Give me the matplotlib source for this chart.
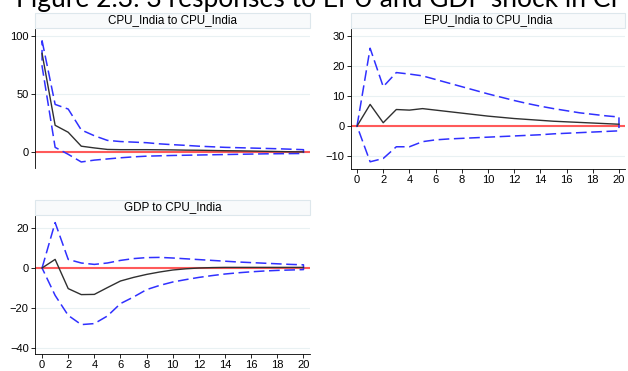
import matplotlib
matplotlib.use('Agg')
import matplotlib.pyplot as plt
from matplotlib.patches import Rectangle

plt.rcParams['font.family'] = ['Liberation Sans', 'DejaVu Sans']

steps = list(range(21))

# CPU_India to CPU_India
cpu_irf = [85, 23, 17, 5, 3.5, 2.2, 2.0, 2.0, 2.0, 1.9, 1.8, 1.6, 1.5, 1.3, 1.1, 1.0, 0.8, 0.6, 0.4, 0.2, 0.1]
cpu_up = [96, 41, 37, 19, 14, 10, 9, 8.5, 8, 7, 6.3, 5.7, 5, 4.5, 4, 3.7, 3.4, 3.1, 2.8, 2.4, 2]
cpu_lo = [74, 4, -2, -8.6, -7, -6, -5, -4.2, -3.6, -3.3, -3, -2.8, -2.6, -2.4, -2.2, -2, -1.8, -1.6, -1.5, -1.4, -1.3]

# EPU_India to CPU_India
epu_irf = [0, 7.2, 1.1, 5.5, 5.3, 5.8, 5.3, 4.8, 4.3, 3.8, 3.3, 2.9, 2.5, 2.2, 1.9, 1.6, 1.4, 1.2, 1.0, 0.8, 0.6]
epu_up = [0, 25.9, 13.1, 17.8, 17.3, 16.7, 15.5, 14.3, 13.1, 11.9, 10.7, 9.6, 8.5, 7.5, 6.6, 5.8, 5.1, 4.4, 3.9, 3.4, 3.0]
epu_lo = [0, -11.9, -10.8, -6.9, -6.9, -5.2, -4.6, -4.3, -4.1, -3.9, -3.7, -3.5, -3.3, -3.1, -2.9, -2.6, -2.4, -2.2, -2.0, -1.8, -1.6]

# GDP to CPU_India
gdp_irf = [0, 4.3, -10.3, -13.3, -13.2, -9.8, -6.5, -4.7, -3.2, -2.0, -1.0, -0.4, 0, 0.2, 0.3, 0.3, 0.3, 0.3, 0.3, 0.3, 0.3]
gdp_up = [0, 22.7, 4.3, 2.5, 1.8, 2.5, 3.8, 4.7, 5.2, 5.3, 5.0, 4.6, 4.2, 3.8, 3.4, 3.0, 2.7, 2.4, 2.1, 1.8, 1.6]
gdp_lo = [0, -13.7, -23.7, -28.3, -27.8, -24, -17.8, -14.5, -10.8, -8.7, -7.0, -5.8, -4.7, -3.8, -3.0, -2.4, -1.9, -1.5, -1.2, -1.0, -0.8]

W, H = 628, 371
fig = plt.figure(figsize=(W / 100, H / 100), dpi=100)


def fx(px):
    return px / W


def fy(py):
    return 1 - py / H


def panel(left, right, top, bottom, title, irf, up, lo, xlim, ylim, yticks, show_x):
    ax = fig.add_axes([fx(left), fy(bottom), fx(right - left), fy(top) - fy(bottom)])
    # title bar
    fig.patches.append(Rectangle((fx(left), fy(top - 1)), fx(right - left), fy(top - 16) - fy(top - 1),
                                 transform=fig.transFigure, facecolor='#f8fafb',
                                 edgecolor='#dde7ec', linewidth=0.8))
    fig.text(fx((left + right) / 2), fy(top - 8.5), title, ha='center', va='center', fontsize=8.4)

    for yt in yticks:
        ax.axhline(yt, color='#e9f1f3', lw=0.8, zorder=0)
    ax.axhline(0, color='#ff5a5a', lw=1.5, zorder=2)
    band_x = steps + steps[::-1] + [steps[0]]
    band_y = up + lo[::-1] + [up[0]]
    ax.plot(band_x, band_y, color='#3030ff', lw=1.1, dashes=(7, 3), zorder=3)
    ax.plot(steps, irf, color='#303030', lw=1.0, zorder=4)

    ax.set_xlim(*xlim)
    ax.set_ylim(*ylim)
    ax.set_yticks(yticks)
    ax.tick_params(axis='y', labelsize=8, length=3, width=0.6, pad=1.5)
    for s in ['top', 'right']:
        ax.spines[s].set_visible(False)
    ax.spines['left'].set_linewidth(0.6)
    if show_x:
        ax.set_xticks(range(0, 21, 2))
        ax.tick_params(axis='x', labelsize=8, length=3, width=0.6, pad=1.5)
        ax.spines['bottom'].set_linewidth(0.6)
    else:
        ax.set_xticks([])
        ax.spines['bottom'].set_visible(False)
    return ax


panel(35, 310, 29, 168, 'CPU_India to CPU_India', cpu_irf, cpu_up, cpu_lo,
      (-0.54, 20.5), (-13.8, 106), [0, 50, 100], False)
panel(351, 625, 29, 169, 'EPU_India to CPU_India', epu_irf, epu_up, epu_lo,
      (-0.46, 20.46), (-14.3, 32.3), [-10, 0, 10, 20, 30], True)
panel(35, 310, 216, 354, 'GDP to CPU_India', gdp_irf, gdp_up, gdp_lo,
      (-0.54, 20.5), (-43, 26), [-40, -20, 0, 20], True)

# page caption above the figure, cut off at the top like in the source
fig.text(fx(16), fy(7), 'Figure 2.3: 3 responses to EPU and GDP shock in CPU',
         ha='left', va='baseline', fontsize=19, family=['Lato', 'DejaVu Sans'])

fig.savefig('out.png', dpi=100)
